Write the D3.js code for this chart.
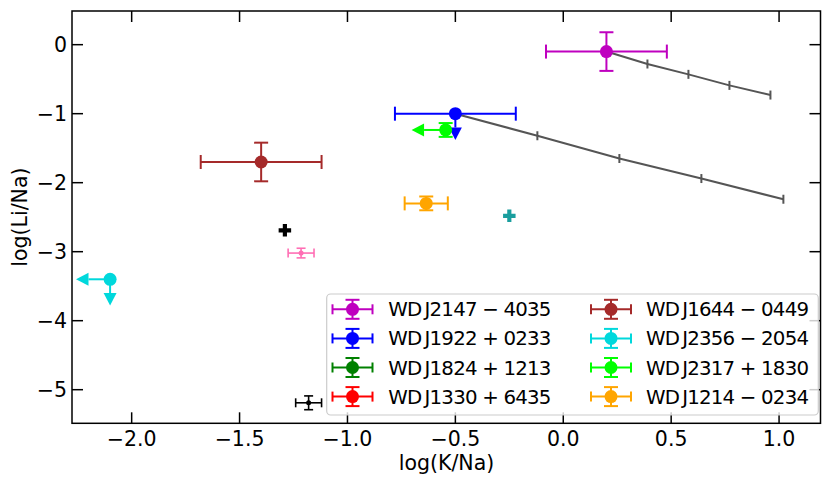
<!DOCTYPE html>
<html><head><meta charset="utf-8">
<script src="https://cdn.jsdelivr.net/npm/d3@7"></script>
<style>body{margin:0;background:#fff} text{font-family:"DejaVu Sans",sans-serif}</style>
</head><body><svg id="c" width="831" height="486"></svg>
<script>
// ---- data ----
const xTicks = [-2.0, -1.5, -1.0, -0.5, 0.0, 0.5, 1.0];
const yTicks = [0, -1, -2, -3, -4, -5];
const names  = ["WDJ2147 − 4035","WDJ1922 + 0233","WDJ1824 + 1213","WDJ1330 + 6435",
                "WDJ1644 − 0449","WDJ2356 − 2054","WDJ2317 + 1830","WDJ1214 − 0234"];
const colors = ["#bf00bf","#0000ff","#008000","#ff0000","#a52a2a","#00d8dc","#00ff00","#ffa500"];
const xs     = [0.2, -0.5, null, null, -1.4, -2.1, -0.545, -0.635];
const ys     = [-0.1, -1.0, null, null, -1.7, -3.4, -1.236, -2.30];
const xerrs  = [0.28, 0.28, 0, 0, 0.28, 0.1, 0.1, 0.1];
const yerrs  = [0.28, 0.2, 0, 0, 0.28, 0.2, 0.1, 0.1];
const xUpLim = [false, false, false, false, false, true, true, false];
const yUpLim = [false, true, false, false, false, true, false, false];

// extra unlabelled points
const extraX    = [-1.29, -0.25];
const extraY    = [-2.69, -2.48];
const extraCol  = ["#000000", "#1a9e9e"];
const smallX    = [-1.215, -1.18];
const smallY    = [-3.02, -5.19];
const smallXerr = [0.06, 0.06];
const smallYerr = [0.07, 0.1];
const smallCol  = ["#ff6eb4", "#000000"];

// tracks
const track1X = [0.2, 0.39, 0.58, 0.77, 0.96];
const track1Y = [-0.1, -0.28, -0.43, -0.59, -0.73];
const track2X = [-0.5, -0.12, 0.26, 0.64, 1.02];
const track2Y = [-1.0, -1.32, -1.65, -1.94, -2.24];

// ---- layout ----
const L = 72, R = 820.5, T = 11, B = 423.3;
const FS = 20.5;
const x = d3.scaleLinear().domain([-2.2765, 1.192]).range([L, R]);
const y = d3.scaleLinear().domain([-5.487, 0.488]).range([B, T]);
const svg = d3.select("#c");
const fmt = v => (v < 0 ? "\u2212" : "") + Math.abs(v).toFixed(1);
const fmtY = v => (v < 0 ? "\u2212" : "") + Math.abs(v).toFixed(0);

// tracks
[[track1X, track1Y], [track2X, track2Y]].forEach(([tx, ty]) => {
  const pts = tx.map((v, i) => [x(v), y(ty[i])]);
  svg.append("path").attr("d", d3.line()(pts)).attr("fill", "none")
    .attr("stroke", "#555555").attr("stroke-width", 2);
  pts.slice(1).forEach(p => svg.append("line").attr("x1", p[0]).attr("x2", p[0])
    .attr("y1", p[1] - 4.5).attr("y2", p[1] + 4.5).attr("stroke", "#555555").attr("stroke-width", 2));
});

function caret(g, cx, cy, dir, col) {
  const h = 12.5, w = 6.5;
  let pts;
  if (dir === "left") pts = [[cx, cy - w], [cx, cy + w], [cx - h, cy]];
  else pts = [[cx - w, cy], [cx + w, cy], [cx, cy + h]];
  g.append("polygon").attr("points", pts.map(p => p.join(",")).join(" ")).attr("fill", col);
}

function errorbar(g, px, py, xe, ye, col, cap, lw, xl, yl) {
  const X = x(px), Y = y(py);
  if (xe) {
    if (xl) {
      const xe0 = x(px - xe);
      g.append("line").attr("x1", xe0).attr("x2", X).attr("y1", Y).attr("y2", Y).attr("stroke", col).attr("stroke-width", lw);
      caret(g, xe0, Y, "left", col);
    } else {
      const a = x(px - xe), b = x(px + xe);
      g.append("line").attr("x1", a).attr("x2", b).attr("y1", Y).attr("y2", Y).attr("stroke", col).attr("stroke-width", lw);
      [a, b].forEach(v => g.append("line").attr("x1", v).attr("x2", v).attr("y1", Y - cap).attr("y2", Y + cap).attr("stroke", col).attr("stroke-width", lw));
    }
  }
  if (ye) {
    if (yl) {
      const y0 = y(py - ye);
      g.append("line").attr("x1", X).attr("x2", X).attr("y1", Y).attr("y2", y0).attr("stroke", col).attr("stroke-width", lw);
      caret(g, X, y0, "down", col);
    } else {
      const a = y(py + ye), b = y(py - ye);
      g.append("line").attr("x1", X).attr("x2", X).attr("y1", a).attr("y2", b).attr("stroke", col).attr("stroke-width", lw);
      [a, b].forEach(v => g.append("line").attr("y1", v).attr("y2", v).attr("x1", X - cap).attr("x2", X + cap).attr("stroke", col).attr("stroke-width", lw));
    }
  }
}

const gp = svg.append("g");
names.forEach((n, i) => {
  if (xs[i] === null) return;
  errorbar(gp, xs[i], ys[i], xerrs[i], yerrs[i], colors[i], 7, 2, xUpLim[i], yUpLim[i]);
  gp.append("circle").attr("cx", x(xs[i])).attr("cy", y(ys[i])).attr("r", 6.5).attr("fill", colors[i]);
});

function plusPath(cx, cy, s) {
  const a = s / 6, b = s / 2;
  const p = [[-a,-b],[a,-b],[a,-a],[b,-a],[b,a],[a,a],[a,b],[-a,b],[-a,a],[-b,a],[-b,-a],[-a,-a]];
  return "M" + p.map(q => (cx + q[0]) + "," + (cy + q[1])).join("L") + "Z";
}
extraX.forEach((v, i) => gp.append("path").attr("d", plusPath(x(v), y(extraY[i]), 12.5)).attr("fill", extraCol[i]));

smallX.forEach((v, i) => {
  errorbar(gp, v, smallY[i], smallXerr[i], smallYerr[i], smallCol[i], 4.5, 1.6, false, false);
  gp.append("circle").attr("cx", x(v)).attr("cy", y(smallY[i])).attr("r", 2.5).attr("fill", smallCol[i]);
});

// ---- axes ----
const ga = svg.append("g");
xTicks.forEach(t => {
  const X = x(t);
  ga.append("line").attr("x1", X).attr("x2", X).attr("y1", B).attr("y2", B - 11).attr("stroke", "#000").attr("stroke-width", 1.5);
  ga.append("line").attr("x1", X).attr("x2", X).attr("y1", T).attr("y2", T + 11).attr("stroke", "#000").attr("stroke-width", 1.5);
  ga.append("text").attr("x", X).attr("y", 445.5).attr("text-anchor", "middle").attr("font-size", FS).text(fmt(t));
});
yTicks.forEach(t => {
  const Y = y(t);
  ga.append("line").attr("x1", L).attr("x2", L + 11).attr("y1", Y).attr("y2", Y).attr("stroke", "#000").attr("stroke-width", 1.5);
  ga.append("line").attr("x1", R).attr("x2", R - 11).attr("y1", Y).attr("y2", Y).attr("stroke", "#000").attr("stroke-width", 1.5);
  ga.append("text").attr("x", 67).attr("y", Y + 7.3).attr("text-anchor", "end").attr("font-size", FS).text(fmtY(t));
});
ga.append("rect").attr("x", L).attr("y", T).attr("width", R - L).attr("height", B - T)
  .attr("fill", "none").attr("stroke", "#000").attr("stroke-width", 1.5);
ga.append("text").attr("x", 446.5).attr("y", 470).attr("text-anchor", "middle").attr("font-size", FS).text("log(K/Na)");
ga.append("text").attr("transform", `translate(27,${(T + B) / 2}) rotate(-90)`).attr("text-anchor", "middle").attr("font-size", FS).text("log(Li/Na)");

// ---- legend ----
const lg = svg.append("g");
lg.append("rect").attr("x", 326.7).attr("y", 294).attr("width", 491.6).attr("height", 121).attr("rx", 4)
  .attr("fill", "#fff").attr("fill-opacity", 0.8).attr("stroke", "#cccccc").attr("stroke-width", 1.2);
names.forEach((n, i) => {
  const col = Math.floor(i / 4), row = i % 4;
  const cx = col ? 611 : 352.5, cy = 309.3 + row * 29.1;
  const c = colors[i];
  lg.append("line").attr("x1", cx - 20).attr("x2", cx + 20).attr("y1", cy).attr("y2", cy).attr("stroke", c).attr("stroke-width", 2);
  [cx - 20, cx + 20].forEach(v => lg.append("line").attr("x1", v).attr("x2", v).attr("y1", cy - 5).attr("y2", cy + 5).attr("stroke", c).attr("stroke-width", 2));
  lg.append("line").attr("x1", cx).attr("x2", cx).attr("y1", cy - 9.5).attr("y2", cy + 9.5).attr("stroke", c).attr("stroke-width", 2);
  [cy - 9.5, cy + 9.5].forEach(v => lg.append("line").attr("y1", v).attr("y2", v).attr("x1", cx - 7).attr("x2", cx + 7).attr("stroke", c).attr("stroke-width", 2));
  lg.append("circle").attr("cx", cx).attr("cy", cy).attr("r", 6.5).attr("fill", c);
  lg.append("text").attr("x", col ? 646 : 388.3).attr("y", cy + 7).attr("font-size", 19.8)
    .attr("textLength", 163).attr("lengthAdjust", "spacing").text(n.replace("WDJ", "WD\u2009J"));
});
</script></body></html>
